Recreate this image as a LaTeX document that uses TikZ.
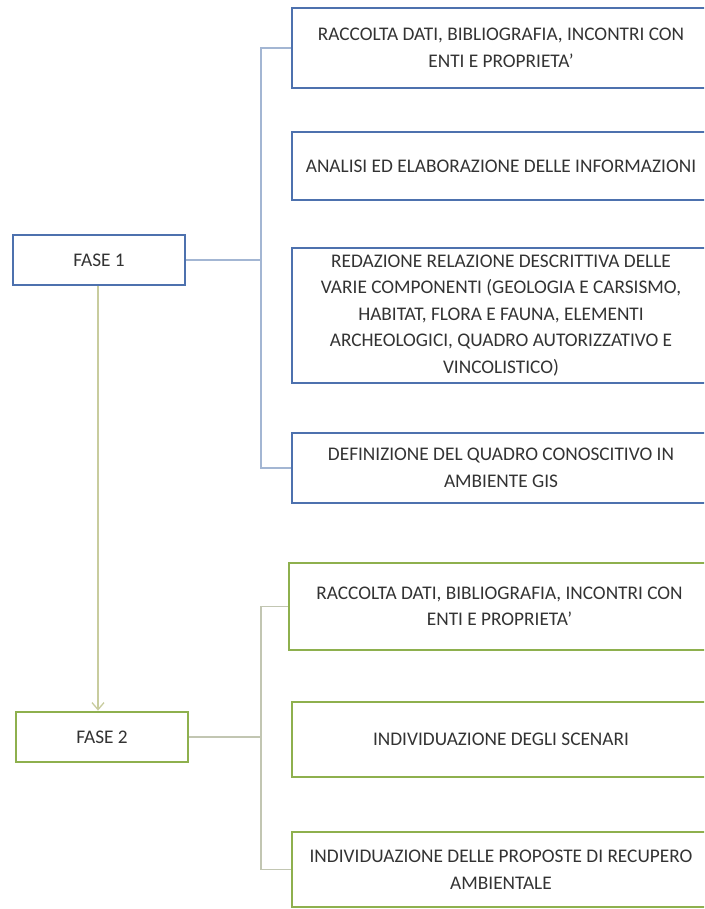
\documentclass[tikz,border=0pt]{standalone}
\usepackage{fontspec}
\setmainfont{Carlito}
\usetikzlibrary{arrows.meta}
\definecolor{bborder}{HTML}{4D71AE}
\definecolor{gborder}{HTML}{8EB04E}
\definecolor{bline}{HTML}{A3B6D3}
\definecolor{gline}{HTML}{C2C6B2}
\definecolor{aline}{HTML}{C8CC9E}
\definecolor{txt}{HTML}{333333}
\tikzset{
  boxbase/.style={rectangle, line width=2.8pt, fill=white, text=txt, align=center,
    font=\fontsize{19.3}{26.5}\selectfont, inner sep=0pt},
  bluebox/.style={boxbase, draw=bborder},
  greenbox/.style={boxbase, draw=gborder},
  bcon/.style={draw=bline, line width=1.3pt},
  gcon/.style={draw=gline, line width=1.3pt},
  acon/.style={draw=aline, line width=1.3pt, -{Straight Barb[length=7pt,width=12pt]}},
}
\begin{document}
\begin{tikzpicture}[x=1pt,y=-1pt]
\clip (0,0) rectangle (704,909);
\fill[white] (0,0) rectangle (704,909);

\node[bluebox, minimum width=172pt, minimum height=50pt] (F1) at (99,260) {FASE 1};
\node[bluebox, minimum width=418pt, minimum height=80pt] (B1) at (501,48)
  {RACCOLTA DATI, BIBLIOGRAFIA, INCONTRI CON\\ENTI E PROPRIETA'};
\node[bluebox, minimum width=418pt, minimum height=68pt] (B2) at (501,166)
  {ANALISI ED ELABORAZIONE DELLE INFORMAZIONI};
\node[bluebox, minimum width=418pt, minimum height=135pt] (B3) at (501,315.5)
  {REDAZIONE RELAZIONE DESCRITTIVA DELLE\\VARIE COMPONENTI (GEOLOGIA E CARSISMO,\\HABITAT, FLORA E FAUNA, ELEMENTI\\ARCHEOLOGICI, QUADRO AUTORIZZATIVO E\\VINCOLISTICO)};
\node[bluebox, minimum width=418pt, minimum height=70pt] (B4) at (501,468)
  {DEFINIZIONE DEL QUADRO CONOSCITIVO IN\\AMBIENTE GIS};

\node[greenbox, minimum width=172pt, minimum height=50pt] (F2) at (102,737) {FASE 2};
\node[greenbox, minimum width=421pt, minimum height=87pt] (G1) at (499.5,606.5)
  {RACCOLTA DATI, BIBLIOGRAFIA, INCONTRI CON\\ENTI E PROPRIETA'};
\node[greenbox, minimum width=418pt, minimum height=75pt] (G2) at (501,739.5)
  {INDIVIDUAZIONE DEGLI SCENARI};
\node[greenbox, minimum width=418pt, minimum height=75pt] (G3) at (501,869.5)
  {INDIVIDUAZIONE DELLE PROPOSTE DI RECUPERO\\AMBIENTALE};

\coordinate (bus1) at (261,0);
\coordinate (bus2) at (261,0);

\draw[bcon] (B1.west) -- (B1.west -| bus1) -- (B4.west -| bus1) -- (B4.west);
\draw[bcon] (F1.east) -- (F1.east -| bus1);
\draw[gcon] (G1.west) -- (G1.west -| bus2) -- (G3.west -| bus2) -- (G3.west);
\draw[gcon] (F2.east) -- (F2.east -| bus2);
\draw[acon] (F1.south -| 98,0) -- (F2.north -| 98,0);
\end{tikzpicture}
\end{document}
